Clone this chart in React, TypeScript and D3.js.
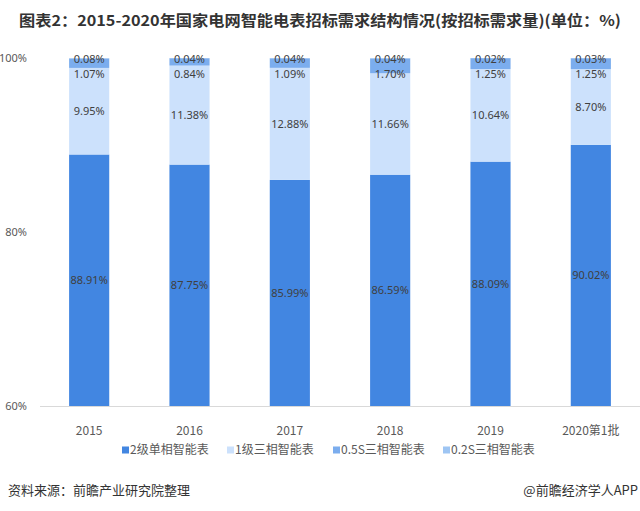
import * as d3 from "d3";
import { useEffect, useRef } from "react";

// categories and series (percent of tender volume)
const years = ["2015", "2016", "2017", "2018", "2019", "2020第1批"];
const series = ["2级单相智能表", "1级三相智能表", "0.5S三相智能表", "0.2S三相智能表"];
const singlePhase2 = [88.91, 87.75, 85.99, 86.59, 88.09, 90.02];
const threePhase1 = [9.95, 11.38, 12.88, 11.66, 10.64, 8.7];
const threePhase05S = [1.07, 0.84, 1.09, 1.7, 1.25, 1.25];
const threePhase02S = [0.08, 0.04, 0.04, 0.04, 0.02, 0.03];
const yTicks = [60, 80, 100];

const colors = ["#4286e1", "#cce1fc", "#7badee", "#9ec5f3"];

const WIDTH = 640;
const HEIGHT = 511;
const FONT = "'Microsoft YaHei', 'Noto Sans CJK SC', 'Noto Sans', sans-serif";
const NUM_FONT = "'Noto Sans', 'DejaVu Sans', sans-serif";

function App() {
    const ref = useRef<SVGSVGElement>(null);

    useEffect(() => {
        const svg = d3.select(ref.current);
        svg.selectAll("*").remove();

        const rows = years.map((y, i) => ({
            year: y,
            [series[0]]: singlePhase2[i],
            [series[1]]: threePhase1[i],
            [series[2]]: threePhase05S[i],
            [series[3]]: threePhase02S[i],
        }));

        const x = d3.scaleBand<string>()
            .domain(years)
            .range([39, 641])
            .paddingInner(0.6)
            .paddingOuter(0.3);

        const y = d3.scaleLinear().domain([60, 100]).range([406, 58]);

        const stacked = d3.stack<any>().keys(series)(rows);

        svg.append("rect")
            .attr("width", WIDTH)
            .attr("height", HEIGHT)
            .attr("fill", "#fff");

        // Title
        svg.append("text")
            .attr("x", 320)
            .attr("y", 26)
            .attr("text-anchor", "middle")
            .attr("font-family", FONT)
            .attr("font-weight", "bold")
            .attr("font-size", 15)
            .attr("fill", "#333")
            .attr("textLength", 602)
            .attr("lengthAdjust", "spacingAndGlyphs")
            .text("图表2：2015-2020年国家电网智能电表招标需求结构情况(按招标需求量)(单位：%)");

        // y tick labels
        svg.append("g")
            .selectAll("text")
            .data(yTicks)
            .join("text")
            .attr("x", 27)
            .attr("y", (d) => y(d))
            .attr("dy", "0.35em")
            .attr("text-anchor", "end")
            .attr("font-family", NUM_FONT)
            .attr("font-size", 11)
            .attr("fill", "#595959")
            .text((d) => `${d}%`);

        // bars
        const clampY = (v: number) => y(Math.max(60, Math.min(100, v)));
        svg.append("g")
            .selectAll("g")
            .data(stacked)
            .join("g")
            .attr("fill", (_, i) => colors[i])
            .selectAll("rect")
            .data((s) => s)
            .join("rect")
            .attr("x", (d) => x(d.data.year)!)
            .attr("width", x.bandwidth())
            .attr("y", (d) => clampY(d[1]))
            .attr("height", (d) => Math.max(0, clampY(d[0]) - clampY(d[1])));

        // x axis line
        svg.append("line")
            .attr("x1", 40)
            .attr("x2", 640)
            .attr("y1", y(60) + 0.5)
            .attr("y2", y(60) + 0.5)
            .attr("stroke", "#d9d9d9");

        svg.append("g")
            .selectAll("text")
            .data(years)
            .join("text")
            .attr("x", (d) => x(d)! + x.bandwidth() / 2)
            .attr("y", 431)
            .attr("dy", "0.35em")
            .attr("text-anchor", "middle")
            .attr("font-family", FONT)
            .attr("font-size", 12)
            .attr("fill", "#595959")
            .text((d) => d);

        // data labels
        const labels = svg.append("g")
            .attr("font-family", NUM_FONT)
            .attr("font-size", 11)
            .attr("fill", "#404040")
            .attr("text-anchor", "middle");

        stacked.forEach((s, si) => {
            labels.selectAll(null)
                .data(s)
                .join("text")
                .attr("x", (d) => x(d.data.year)! + x.bandwidth() / 2)
                .attr("y", (d) => {
                    if (si === 3) return y(100) + 1;
                    if (si === 2) return y(100) + 16;
                    return (clampY(d[0]) + clampY(d[1])) / 2;
                })
                .attr("dy", "0.35em")
                .text((d) => `${(d[1] - d[0]).toFixed(2)}%`);
        });

        // legend
        const legendX = [122, 227, 333, 443];
        const legend = svg.append("g")
            .selectAll("g")
            .data(series)
            .join("g")
            .attr("transform", (_, i) => `translate(${legendX[i]},450)`);
        legend.append("rect")
            .attr("x", 0)
            .attr("y", -3.5)
            .attr("width", 7)
            .attr("height", 7)
            .attr("fill", (_, i) => colors[i]);
        legend.append("text")
            .attr("x", 8)
            .attr("dy", "0.35em")
            .attr("font-family", FONT)
            .attr("font-size", 12)
            .attr("fill", "#595959")
            .text((d) => d);

        // footer
        svg.append("text")
            .attr("x", 8)
            .attr("y", 490)
            .attr("dy", "0.35em")
            .attr("font-family", FONT)
            .attr("font-size", 13)
            .attr("fill", "#333")
            .text("资料来源：前瞻产业研究院整理");
        svg.append("text")
            .attr("x", 638)
            .attr("y", 490)
            .attr("dy", "0.35em")
            .attr("text-anchor", "end")
            .attr("font-family", FONT)
            .attr("font-size", 13)
            .attr("fill", "#333")
            .text("@前瞻经济学人APP");
    }, []);

    return (
        <svg
            ref={ref}
            width={WIDTH}
            height={HEIGHT}
            style={{ position: "absolute", left: 0, top: 0 }}
        />
    );
}

export default App;
